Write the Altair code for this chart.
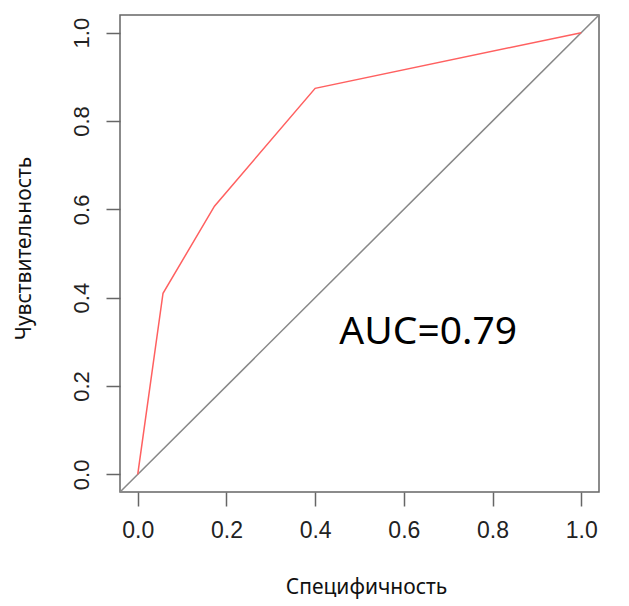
import altair as alt
import pandas as pd

# ROC curve points (1 - specificity, sensitivity)
roc_x = [0.0, 0.057, 0.173, 0.40, 1.0]
roc_y = [0.0, 0.41, 0.607, 0.874, 1.0]
diag_v = [-0.04, 1.04]
tick_vals = [0.0, 0.2, 0.4, 0.6, 0.8, 1.0]
auc_label = "AUC=0.79"
auc_pos = (0.655, 0.322)

roc = pd.DataFrame({"x": roc_x, "y": roc_y, "o": range(len(roc_x))})
diag = pd.DataFrame({"x": diag_v, "y": diag_v})
txt = pd.DataFrame({"x": [auc_pos[0]], "y": [auc_pos[1]], "t": [auc_label]})

xs = alt.Scale(domain=[-0.04, 1.04], nice=False, zero=False)
ys = alt.Scale(domain=[-0.04, 1.04], nice=False, zero=False)

xaxis = alt.Axis(values=tick_vals, format=".1f", title="Специфичность",
                 grid=False, domain=False, tickSize=14, tickColor="#666",
                 tickWidth=1.5, labelFontSize=23, labelFont="Liberation Sans",
                 labelColor="#222", labelPadding=13,
                 titleFont="Noto Sans", titleFontSize=21, titleFontWeight="normal",
                 titleColor="#111", titleX=246, titleY=95,
                 titleAlign="center", titleBaseline="middle")
yaxis = alt.Axis(values=tick_vals, format=".1f", title="Чувствительность",
                 grid=False, domain=False, tickSize=14, tickColor="#666",
                 tickWidth=1.5, labelFontSize=22, labelFont="Liberation Sans",
                 labelColor="#222", labelPadding=18, labelAngle=270,
                 labelAlign="center", labelBaseline="alphabetic",
                 titleFont="Noto Sans", titleFontSize=21, titleFontWeight="normal",
                 titleColor="#111", titleX=-96, titleY=233,
                 titleAlign="center", titleBaseline="middle", titleAngle=270)

diag_line = alt.Chart(diag).mark_line(color="#888", strokeWidth=1.5, clip=True).encode(
    x=alt.X("x:Q", scale=xs, axis=xaxis),
    y=alt.Y("y:Q", scale=ys, axis=yaxis),
)
roc_line = alt.Chart(roc).mark_line(color="#ff6060", strokeWidth=1.5).encode(
    x=alt.X("x:Q", scale=xs),
    y=alt.Y("y:Q", scale=ys),
    order="o:O",
)
auc = alt.Chart(txt).mark_text(font="Noto Sans", fontSize=39, color="#000",
                               align="center", baseline="middle").encode(
    x=alt.X("x:Q", scale=xs),
    y=alt.Y("y:Q", scale=ys),
    text="t:N",
)

chart = alt.layer(diag_line, roc_line, auc).properties(
    width=479, height=477,
    autosize=alt.AutoSizeParams(type="none"),
    padding={"left": 112, "top": 7, "right": 22, "bottom": 112},
    background="white",
).configure_view(stroke="#666", strokeWidth=1.5)

chart.save("out.html", embed_options={"renderer": "svg", "actions": False})
